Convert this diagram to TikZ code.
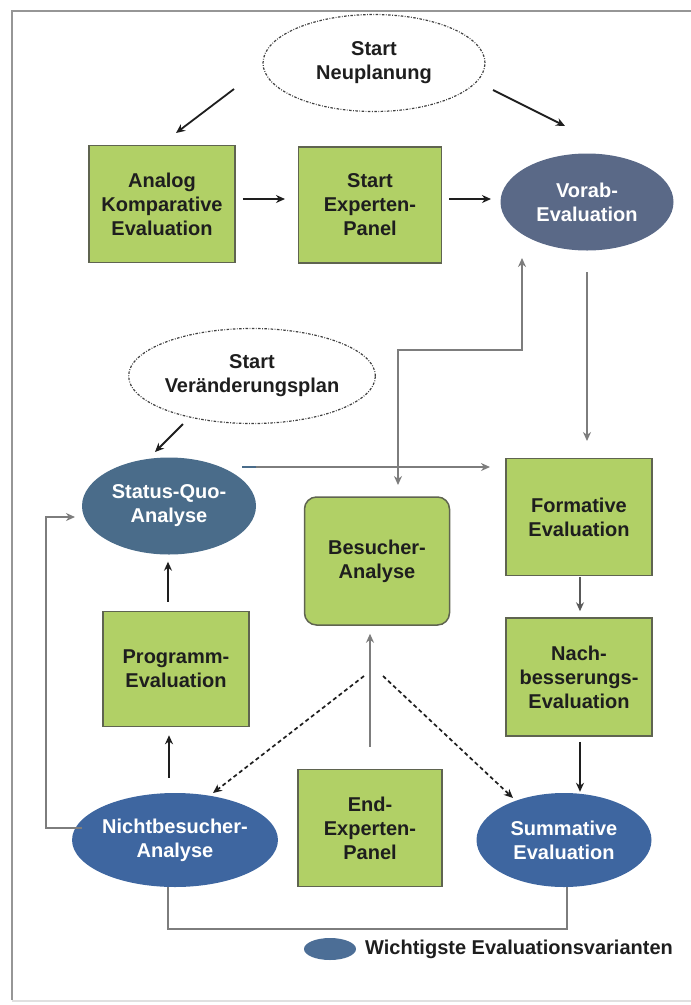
\documentclass[tikz,border=0pt]{standalone}
\usepackage{fontspec}
\setmainfont{Liberation Sans}
\usetikzlibrary{shapes.geometric,arrows.meta}

\definecolor{boxgreen}{RGB}{177,208,102}
\definecolor{boxedge}{RGB}{95,100,80}
\definecolor{slate}{RGB}{90,105,135}
\definecolor{steel}{RGB}{74,108,138}
\definecolor{mainblue}{RGB}{62,102,160}
\definecolor{legendblue}{RGB}{76,110,150}
\definecolor{linegray}{RGB}{125,125,125}
\definecolor{framegray}{RGB}{150,150,150}
\definecolor{inkdark}{RGB}{30,30,30}

\tikzset{
  lbl/.style={font=\fontsize{20}{24}\selectfont\bfseries, align=center},
  greenbox/.style={lbl, draw=boxedge, line width=1.5pt, fill=boxgreen,
    text=inkdark, inner sep=0pt},
  startoval/.style={lbl, ellipse, draw=black!75, line width=1.2pt,
    dash pattern=on 2.5pt off 1.5pt on 0.8pt off 1.5pt, text=inkdark, inner sep=0pt},
  keyoval/.style={lbl, ellipse, text=white, inner sep=0pt},
  tip/.style={-{Stealth[length=9pt,width=8pt]}},
  arr/.style={draw=inkdark, line width=1.8pt, tip},
  grayarr/.style={draw=linegray, line width=1.7pt, tip},
  grayline/.style={draw=linegray, line width=1.7pt},
  dasharr/.style={draw=inkdark, line width=1.7pt, dash pattern=on 4pt off 3pt, tip},
}

\begin{document}
\begin{tikzpicture}[x=1pt, y=-1pt]
\useasboundingbox (0,0) rectangle (691,1005);

% outer frame
\draw[framegray, line width=2pt] (12,1000) -- (12,11) -- (691,11);
\draw[black!12, line width=1.2pt] (12,1001) -- (691,1001);

% top row
\node[startoval, minimum width=222, minimum height=97] (sn) at (374,63) {Start\\Neuplanung};
\node[greenbox, minimum width=146, minimum height=117] (analog) at (162,204) {Analog\\Komparative\\Evaluation};
\node[greenbox, minimum width=143, minimum height=116] (sep) at (370,205) {Start\\Experten-\\Panel};
\node[keyoval, fill=slate, minimum width=173, minimum height=97] (vorab) at (587,202) {Vorab-\\Evaluation};

% middle part
\node[startoval, minimum width=224, minimum height=95] (svp) at (252,376) {Start\\Veränderungsplan};
\node[keyoval, fill=steel, minimum width=174, minimum height=97] (sq) at (169,506) {Status-Quo-\\Analyse};
\node[greenbox, rounded corners=12pt, minimum width=145, minimum height=128] (bes) at (377,561) {Besucher-\\Analyse};
\node[greenbox, minimum width=146, minimum height=117] (form) at (579,517) {Formative\\Evaluation};
\node[greenbox, minimum width=146, minimum height=115] (prog) at (176,669) {Programm-\\Evaluation};
\node[greenbox, minimum width=146, minimum height=118] (nach) at (579,677) {Nach-\\besserungs-\\Evaluation};

% bottom row
\node[keyoval, fill=mainblue, minimum width=174, minimum height=94] (nicht) at (175,840) {Nichtbesucher-\\Analyse};
\node[greenbox, minimum width=144, minimum height=117] (endp) at (370,828) {End-\\Experten-\\Panel};
\node[keyoval, fill=mainblue, minimum width=175, minimum height=94] (summ) at (564,840) {Summative\\Evaluation};

% legend
\node[ellipse, fill=legendblue, minimum width=52, minimum height=22, inner sep=0pt] (key) at (330,949) {};
\node[lbl, anchor=west, text=inkdark, inner sep=0pt] (keytext) at (365,949) {Wichtigste Evaluationsvarianten};

% free connector ends
\coordinate (snL) at (234,89);   \coordinate (anT) at (176,133);
\coordinate (snR) at (493,90);   \coordinate (voT) at (565,126);
\coordinate (voB1) at (522,258); \coordinate (besT) at (398,485);
\coordinate (voB2) at (587,272); \coordinate (foT) at (587,441);
\coordinate (sqR) at (242,467);  \coordinate (foL) at (490,467);
\coordinate (svB) at (183,424);  \coordinate (sqT) at (155,452);
\coordinate (niL) at (82,828);   \coordinate (sqL) at (75,517);
\coordinate (besB1) at (364,676); \coordinate (niT) at (213,793);
\coordinate (besB2) at (383,676); \coordinate (suT) at (513,798);

% connectors
\draw[arr] (snL) -- (anT);
\draw[arr] (snR) -- (voT);
\draw[arr] (analog.east |- 0,199) ++(7,0) -- (285,199);
\draw[arr] (sep.east |- 0,199) ++(7,0) -- (491,199);

\draw[grayline, {Stealth[length=9pt,width=8pt]}-{Stealth[length=9pt,width=8pt]}]
  (voB1) -- (voB1 |- 0,350) -- (besT |- 0,350) -- (besT);
\draw[grayarr] (voB2) -- (foT);
\draw[grayarr] (sqR) -- (foL);
\draw[steel, line width=1.7pt] (sqR) -- ++(14,0);

\draw[arr] (svB) -- (sqT);
\draw[arr, shorten <=9pt, shorten >=7pt] (prog.north -| 168,0) -- (sq.south -| 168,0);
\draw[arr, shorten <=15pt, shorten >=8pt] (nicht.north -| 169,0) -- (prog.south -| 169,0);

\draw[grayarr] (niL) -- (46,828) -- (46,517) -- (sqL);
\draw[grayline] (nicht.south -| 168,0) -- (168,929) -- (567,929) -- (summ.south -| 567,0);

\draw[grayarr, shorten <=22pt, shorten >=8pt] (endp.north) -- (bes.south -| endp.north);
\draw[dasharr] (besB1) -- (niT);
\draw[dasharr] (besB2) -- (suT);

\draw[arr, draw=black!65, line width=1.4pt, shorten <=1pt, shorten >=6pt] (form.south -| 580,0) -- (nach.north -| 580,0);
\draw[arr, shorten <=5pt, shorten >=1pt] (nach.south -| 580,0) -- (summ.north -| 580,0);
\end{tikzpicture}
\end{document}
